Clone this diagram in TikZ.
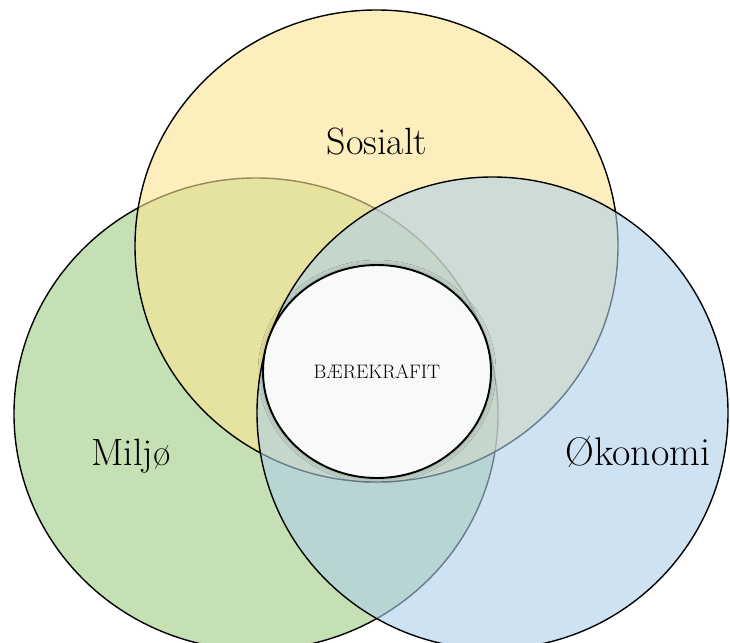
\documentclass[tikz,border=0pt]{standalone}
\usepackage{fontspec}
\usetikzlibrary{shapes.geometric,shadows.blur}
\definecolor{greenfill}{RGB}{197,224,180}
\definecolor{yellowfill}{RGB}{252,228,146}
\definecolor{bluefill}{RGB}{175,207,233}
\definecolor{corefill}{RGB}{248,249,249}
\tikzset{
  setcircle/.style={draw=black, line width=1.4pt},
  biglabel/.style={anchor=base, inner sep=0pt, font=\fontsize{38}{44}\selectfont},
  corebox/.style={ellipse, draw=black, line width=1.9pt, fill=corefill,
    minimum width=228pt, minimum height=213pt, inner sep=0pt,
    blur shadow={shadow xshift=0pt, shadow yshift=0pt, shadow blur radius=5pt, shadow opacity=35}}
}
\begin{document}
\begin{tikzpicture}[x=1pt,y=-1pt]
\useasboundingbox (0,0) rectangle (730,642);
\clip (0,0) rectangle (730,642);
\fill[white] (0,0) rectangle (730,642);
% Miljo (bottom layer)
\draw[setcircle, fill=greenfill] (256,414) ellipse [x radius=242, y radius=236];
% Sosialt
\draw[setcircle, fill=yellowfill, fill opacity=0.6] (376.5,246) ellipse [x radius=241.5, y radius=236];
% Okonomi
\draw[setcircle, fill=bluefill, fill opacity=0.6] (492.5,413) ellipse [x radius=235.5, y radius=236];
% core
\node[corebox] (core) at (377,371.5) {};
\node[anchor=base, inner sep=0pt, font=\fontsize{19.5}{22}\selectfont] (corelabel) at (377,378) {BÆREKRAFIT};
% labels
\node[biglabel] (sosialt) at (377,154) {Sosialt};
\node[biglabel] (miljo) at (131,465) {Miljø};
\node[biglabel, font=\fontsize{40}{46}\selectfont] (okonomi) at (638,465) {Økonomi};
\end{tikzpicture}
\end{document}
